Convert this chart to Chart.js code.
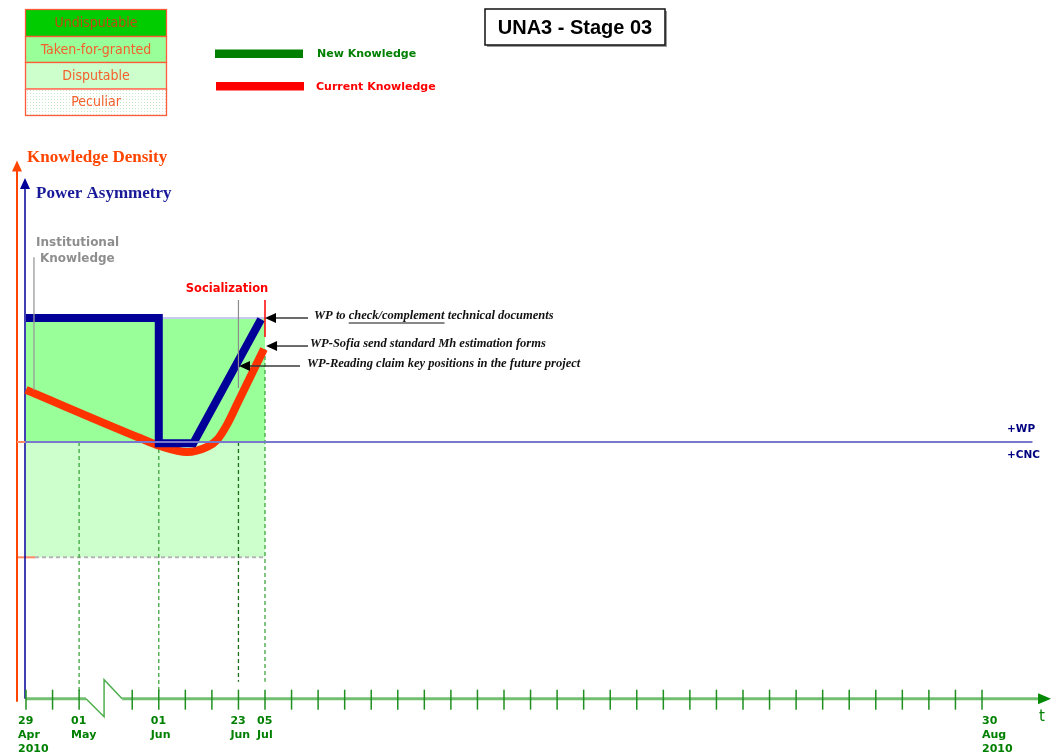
<!DOCTYPE html>
<html>
<head>
<meta charset="utf-8">
<script src="https://cdn.jsdelivr.net/npm/chart.js@4.4.1/dist/chart.umd.min.js"></script>
<style>
  html, body { margin: 0; padding: 0; background: #ffffff; }
  canvas { display: block; }
</style>
</head>
<body>
<canvas id="chart" width="1060" height="756"></canvas>
<script>
// Time axis: one tick per week, counted from 29 Apr 2010 (index 3 is cut by the axis break)
const axisTicks = [0, 1, 2, 4, 5, 6, 7, 8, 9, 10, 11, 12, 13, 14, 15, 16, 17, 18, 19, 20,
                   21, 22, 23, 24, 25, 26, 27, 28, 29, 30, 31, 32, 33, 34, 35, 36];
const dateTickPos = [0, 2, 5, 8, 9, 36];
const dateTickText = [['29', 'Apr', '2010'], ['01', 'May'], ['01', 'Jun'], ['23', 'Jun'], ['05', 'Jul'], ['30', 'Aug', '2010']];
const guideTicks = [2, 5, 8, 9];

// Power asymmetry (WP vs CNC)
const powerX = [0, 5.0, 5.0, 6.3, 8.85];
const powerY = [100, 100, -1, -1, 99];

// Knowledge density
const densityX = [0, 4.29, 5.05, 6.06, 6.82, 7.19, 7.57, 7.95, 8.96];
const densityY = [42, 3.2, -3.2, -8.1, -4, 1.6, 14, 30.6, 75];

// Knowledge zones of the stage
const bandX = [0, 9];
const bandLevels = [100, 0, -93];   // taken-for-granted top, +WP/+CNC divide, disputable bottom
const axisLevel = -207;
const densityAxisTop = 227;
const powerAxisTop = 213;
const axisEnd = 38.6;

// Socialization markers and annotations
const socialStart = 8;
const socialEnd = 9;
const institutionalX = 0.3;
const notes = [
  { x: 9.0,  y: 100,  parts: [['WP to ', false], ['check/complement', true], [' technical documents', false]] },
  { x: 9.04, y: 77.4, parts: [['WP-Sofia send standard Mh estimation forms', false]] },
  { x: 8.02, y: 61.3, parts: [['WP-Reading claim key positions in the future project', false]] }
];
const noteTextX = [314, 310, 307];
const noteTailX = [308, 308, 300];

const zoneNames = ['Undisputable', 'Taken-for-granted', 'Disputable', 'Peculiar'];
const zoneColors = ['#00CC00', '#99FF99', '#CCFFCC', 'pattern'];

function arrowHead(ctx, x, y, dir, len, half, color) {
  ctx.fillStyle = color;
  ctx.beginPath();
  if (dir === 'up') {
    ctx.moveTo(x, y); ctx.lineTo(x - half, y + len); ctx.lineTo(x + half, y + len);
  } else if (dir === 'left') {
    ctx.moveTo(x, y); ctx.lineTo(x + len, y - half); ctx.lineTo(x + len, y + half);
  } else {
    ctx.moveTo(x, y); ctx.lineTo(x - len, y - half); ctx.lineTo(x - len, y + half);
  }
  ctx.closePath();
  ctx.fill();
}

function line(ctx, x1, y1, x2, y2, color, w, dash) {
  ctx.save();
  ctx.strokeStyle = color;
  ctx.lineWidth = w;
  ctx.setLineDash(dash || []);
  ctx.beginPath();
  ctx.moveTo(x1, y1);
  ctx.lineTo(x2, y2);
  ctx.stroke();
  ctx.restore();
}

const decor = {
  id: 'stageDecor',
  beforeDatasetsDraw(chart) {
    const ctx = chart.ctx;
    const xs = chart.scales.x, ys = chart.scales.y;
    const X = v => xs.getPixelForValue(v);
    const Y = v => ys.getPixelForValue(v);
    const x0 = X(0);
    const axisY = Y(axisLevel);

    ctx.save();
    // knowledge zones
    ctx.fillStyle = '#99FF99';
    ctx.fillRect(X(bandX[0]), Y(bandLevels[0]), X(bandX[1]) - X(bandX[0]), Y(bandLevels[1]) - Y(bandLevels[0]));
    ctx.fillStyle = '#CCFFCC';
    ctx.fillRect(X(bandX[0]), Y(bandLevels[1]), X(bandX[1]) - X(bandX[0]), Y(bandLevels[2]) - Y(bandLevels[1]));
    line(ctx, X(5), Y(bandLevels[0]), X(bandX[1]), Y(bandLevels[0]), '#C8C8F0', 2);
    line(ctx, x0 + 9, Y(bandLevels[2]), X(bandX[1]), Y(bandLevels[2]), '#B4B4B4', 2, [4, 3]);
    line(ctx, x0 - 9, Y(bandLevels[2]), x0 + 9, Y(bandLevels[2]), '#FF8866', 2);

    // date guides
    guideTicks.forEach(t => {
      const top = t === socialEnd ? Y(densityY[densityY.length - 1]) : Y(0);
      const bottom = t >= socialStart ? axisY - 17 : axisY - 6;
      const color = t === socialStart ? '#1B6E1B' : '#3FA53F';
      line(ctx, X(t), top, X(t), bottom, color, 1.3, [4, 3]);
    });

    // vertical axes
    line(ctx, x0 - 9, axisY + 3, x0 - 9, Y(densityAxisTop) + 10, '#FF4500', 2);
    arrowHead(ctx, x0 - 9, Y(densityAxisTop), 'up', 11, 5, '#FF4500');
    line(ctx, x0 - 1, axisY, x0 - 1, Y(powerAxisTop) + 10, '#000099', 1.5);
    arrowHead(ctx, x0 - 1, Y(powerAxisTop), 'up', 11, 5, '#000099');

    // time axis with break
    ctx.strokeStyle = '#72BF72';
    ctx.lineWidth = 3;
    ctx.lineJoin = 'miter';
    ctx.beginPath();
    ctx.moveTo(x0, axisY);
    ctx.lineTo(X(2.26), axisY);
    ctx.stroke();
    ctx.lineWidth = 1.5;
    ctx.strokeStyle = '#4FAF4F';
    ctx.beginPath();
    ctx.moveTo(X(2.26), axisY);
    ctx.lineTo(X(2.94), axisY + 18);
    ctx.lineTo(X(2.94), axisY - 19);
    ctx.lineTo(X(3.62), axisY);
    ctx.stroke();
    ctx.lineWidth = 3;
    ctx.strokeStyle = '#72BF72';
    ctx.beginPath();
    ctx.moveTo(X(3.62), axisY);
    ctx.lineTo(X(axisEnd) - 12, axisY);
    ctx.stroke();
    arrowHead(ctx, X(axisEnd), axisY, 'right', 13, 5.5, '#008800');
    axisTicks.forEach(t => line(ctx, X(t), axisY - 9, X(t), axisY + 11, '#1F8F1F', 1.5));

    ctx.fillStyle = '#008000';
    ctx.font = 'bold 11px "DejaVu Sans"';
    ctx.textBaseline = 'middle';
    ctx.textAlign = 'left';
    dateTickPos.forEach((t, i) => {
      const lx = t === axisTicks[axisTicks.length - 1] ? X(t) : X(t) - 8;
      dateTickText[i].forEach((s, k) => ctx.fillText(s, lx, axisY + 22 + k * 14));
    });
    ctx.font = '15px "DejaVu Sans"';
    ctx.fillText('t', X(axisEnd) - 12, axisY + 18);
    ctx.restore();
  },
  afterDatasetsDraw(chart) {
    const ctx = chart.ctx;
    const xs = chart.scales.x, ys = chart.scales.y;
    const X = v => xs.getPixelForValue(v);
    const Y = v => ys.getPixelForValue(v);
    const x0 = X(0);

    ctx.save();
    // +WP / +CNC divide
    line(ctx, x0 - 1, Y(0), X(37.9), Y(0), '#7878CC', 2);
    line(ctx, x0 - 9, Y(0), x0 - 1, Y(0), '#FF8866', 2);
    ctx.fillStyle = '#000080';
    ctx.font = 'bold 10.5px "DejaVu Sans"';
    ctx.textBaseline = 'middle';
    ctx.textAlign = 'left';
    ctx.fillText('+WP', 1007, Y(0) - 13);
    ctx.fillText('+CNC', 1007, Y(0) + 13);

    // socialization window
    line(ctx, X(socialStart), Y(114.5), X(socialStart), Y(43.5), '#8C8C8C', 1.2);
    line(ctx, X(socialEnd), Y(114.5), X(socialEnd), Y(84.7), '#FF0000', 1.5);
    ctx.fillStyle = '#FF0000';
    ctx.font = 'bold 11.5px "DejaVu Sans"';
    ctx.textAlign = 'center';
    ctx.fillText('Socialization', 227, 289);

    // institutional knowledge
    line(ctx, X(institutionalX), Y(149), X(institutionalX), Y(densityY[0]), '#9A9A9A', 1.3);
    ctx.fillStyle = '#8E8E8E';
    ctx.font = 'bold 12px "DejaVu Sans"';
    ctx.textAlign = 'left';
    ctx.fillText('Institutional', 36, 243);
    ctx.fillText('Knowledge', 40, 259);

    // annotations
    ctx.font = 'italic bold 12.5px "Liberation Serif"';
    notes.forEach((n, i) => {
      const tx = X(n.x), ty = Y(n.y);
      line(ctx, noteTailX[i], ty, tx + 10, ty, '#3A3A3A', 1.5);
      arrowHead(ctx, tx, ty, 'left', 11, 5, '#000000');
      let cx = noteTextX[i];
      ctx.fillStyle = '#111111';
      n.parts.forEach(([s, u]) => {
        ctx.fillText(s, cx, ty - 2);
        const w = ctx.measureText(s).width;
        if (u) line(ctx, cx, ty + 5, cx + w, ty + 5, '#111111', 1);
        cx += w;
      });
    });

    // axis titles
    ctx.font = 'bold 17px "Liberation Serif"';
    ctx.fillStyle = '#FF4500';
    ctx.fillText('Knowledge Density', 27, 158);
    ctx.fillStyle = '#1A1A99';
    ctx.fillText('Power Asymmetry', 36, 194);

    // zone key
    const pc = document.createElement('canvas');
    pc.width = 3; pc.height = 3;
    const pctx = pc.getContext('2d');
    pctx.fillStyle = '#ffffff'; pctx.fillRect(0, 0, 3, 3);
    pctx.fillStyle = '#C8EAC8'; pctx.fillRect(0, 0, 1, 1);
    const rows = [9, 36, 62, 88.5, 115];
    ctx.font = '14px "DejaVu Sans Condensed", "DejaVu Sans"';
    ctx.textAlign = 'center';
    zoneNames.forEach((name, i) => {
      ctx.fillStyle = zoneColors[i] === 'pattern' ? ctx.createPattern(pc, 'repeat') : zoneColors[i];
      ctx.fillRect(25, rows[i], 141, rows[i + 1] - rows[i]);
      ctx.strokeStyle = '#FF5A3A';
      ctx.lineWidth = 1.3;
      ctx.strokeRect(25.5, rows[i] + 0.5, 141, rows[i + 1] - rows[i]);
      ctx.fillStyle = i === 0 ? '#C04A14' : '#F55F2C';
      ctx.fillText(name, 96, (rows[i] + rows[i + 1]) / 2 + 1);
    });

    // series key
    ctx.textAlign = 'left';
    ctx.fillStyle = '#008000';
    ctx.fillRect(215, 49.5, 88, 8.5);
    ctx.fillStyle = '#FF0000';
    ctx.fillRect(216, 82, 88, 8.5);
    ctx.font = 'bold 11px "DejaVu Sans"';
    ctx.fillStyle = '#008000';
    ctx.fillText('New Knowledge', 317, 54);
    ctx.fillStyle = '#FF0000';
    ctx.fillText('Current Knowledge', 316, 87);

    // title
    ctx.fillStyle = '#9A9A9A';
    ctx.fillRect(487, 11, 180, 36);
    ctx.fillStyle = '#ffffff';
    ctx.fillRect(485, 9, 180, 36);
    ctx.strokeStyle = '#111111';
    ctx.lineWidth = 1.5;
    ctx.strokeRect(485, 9, 180, 36);
    ctx.fillStyle = '#000000';
    ctx.font = 'bold 20px "Liberation Sans"';
    ctx.textAlign = 'center';
    ctx.fillText('UNA3 - Stage 03', 575, 28);
    ctx.restore();
  }
};

new Chart(document.getElementById('chart').getContext('2d'), {
  type: 'line',
  data: {
    datasets: [
      {
        label: 'Power Asymmetry',
        data: powerX.map((x, i) => ({ x, y: powerY[i] })),
        borderColor: '#000099',
        borderWidth: 8,
        borderJoinStyle: 'miter',
        pointRadius: 0,
        tension: 0,
        clip: false
      },
      {
        label: 'Knowledge Density',
        data: densityX.map((x, i) => ({ x, y: densityY[i] })),
        borderColor: '#FF3300',
        borderWidth: 8,
        pointRadius: 0,
        cubicInterpolationMode: 'monotone',
        clip: false
      }
    ]
  },
  options: {
    responsive: false,
    animation: false,
    events: [],
    layout: { padding: { left: 26, right: 78, top: 318, bottom: 314 } },
    plugins: { legend: { display: false }, tooltip: { enabled: false } },
    scales: {
      x: { type: 'linear', min: 0, max: 36, display: false },
      y: { type: 'linear', min: 0, max: 100, display: false }
    }
  },
  plugins: [decor]
});
</script>
</body>
</html>
